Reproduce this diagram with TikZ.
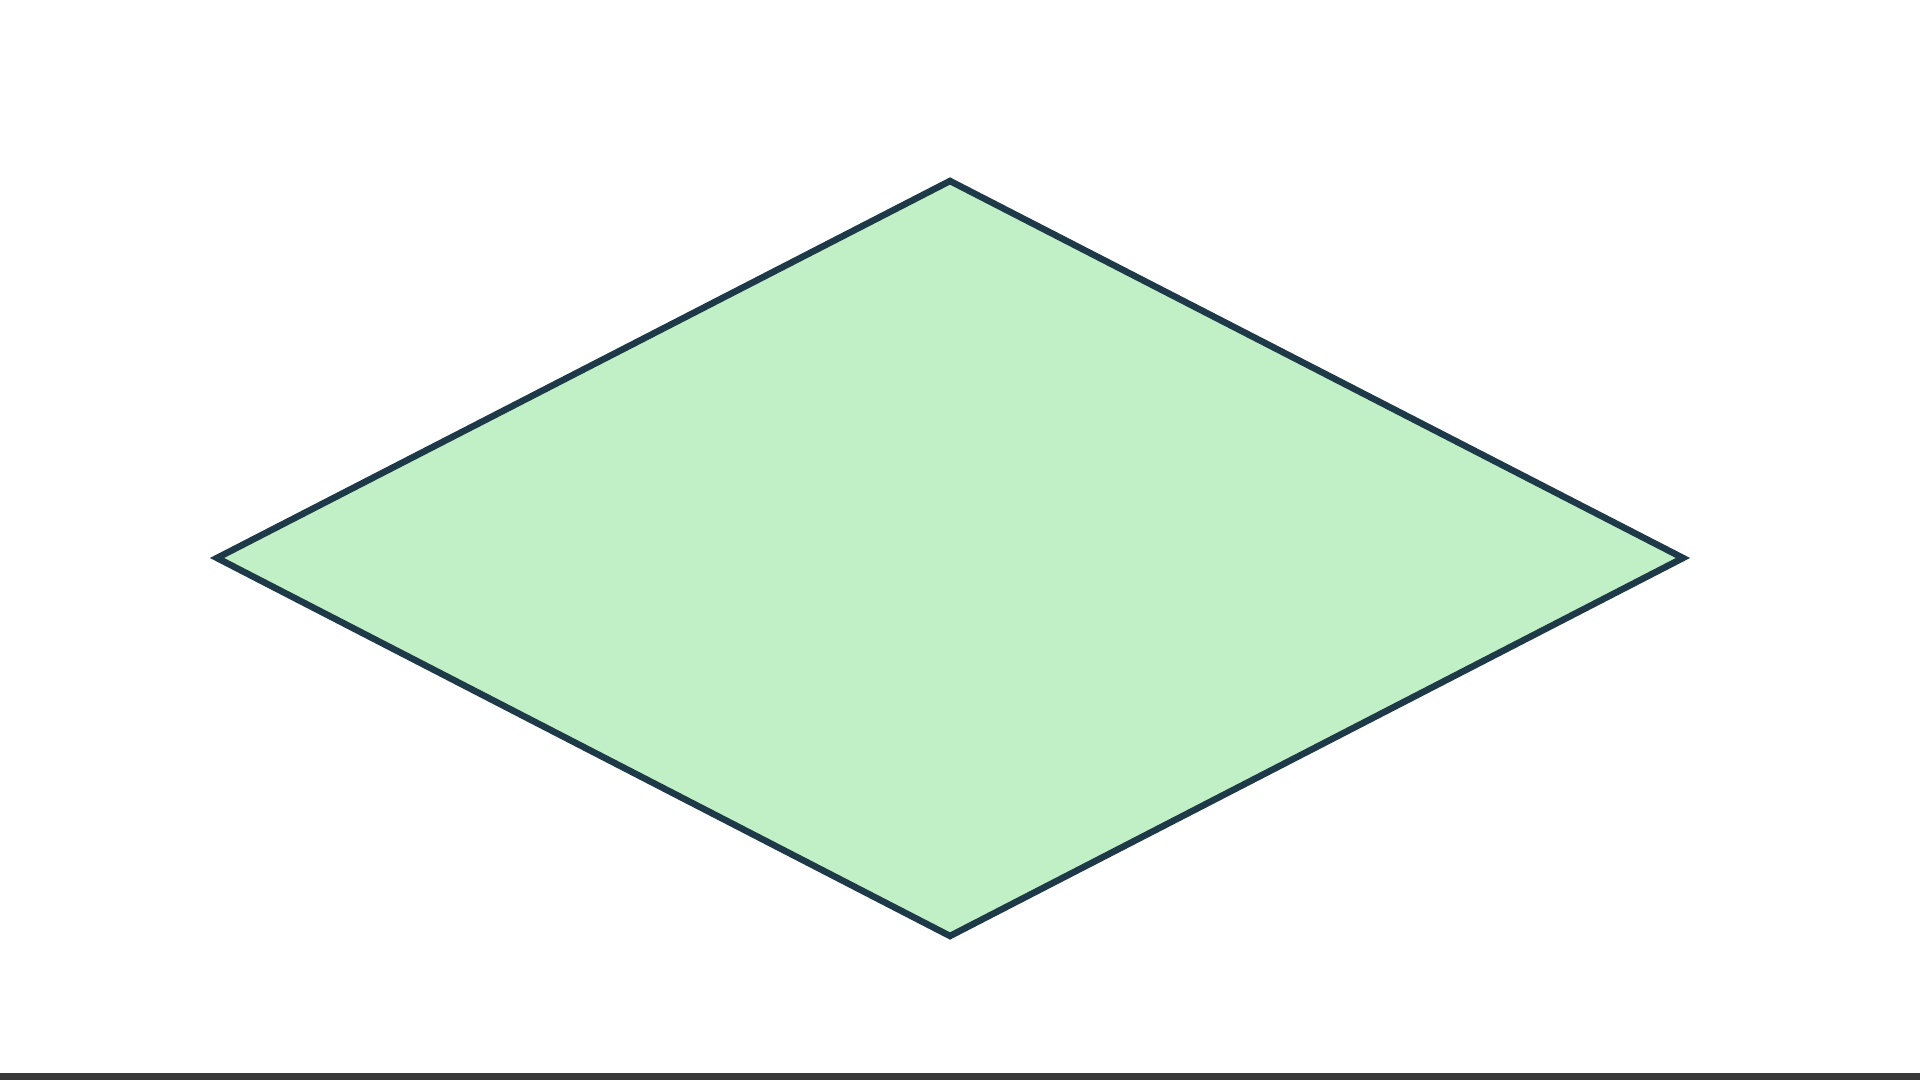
\documentclass[tikz,border=0pt]{standalone}
\usepackage{tikz}
\definecolor{dfill}{HTML}{C1F0C6}
\definecolor{dline}{HTML}{1E3A48}
\definecolor{bline}{HTML}{383838}
\tikzset{
  px/.style={x=0.01cm,y=-0.01cm},
  dia/.style={draw=dline,fill=dfill,line width=0.065cm,line join=miter},
  baseline/.style={draw=bline,line width=0.07cm}
}
\begin{document}
\begin{tikzpicture}[px]
\useasboundingbox (0,0) rectangle (1920,1080);
\coordinate (L) at (217,558);
\coordinate (T) at (950,181);
\coordinate (R) at (1683,558);
\coordinate (B) at (950,936);
\path[dia] (L) -- (T) -- (R) -- (B) -- cycle;
\coordinate (BL) at (0,1077);
\coordinate (BR) at (1920,1077);
\path[baseline] (BL) -- (BR);
\end{tikzpicture}
\end{document}
